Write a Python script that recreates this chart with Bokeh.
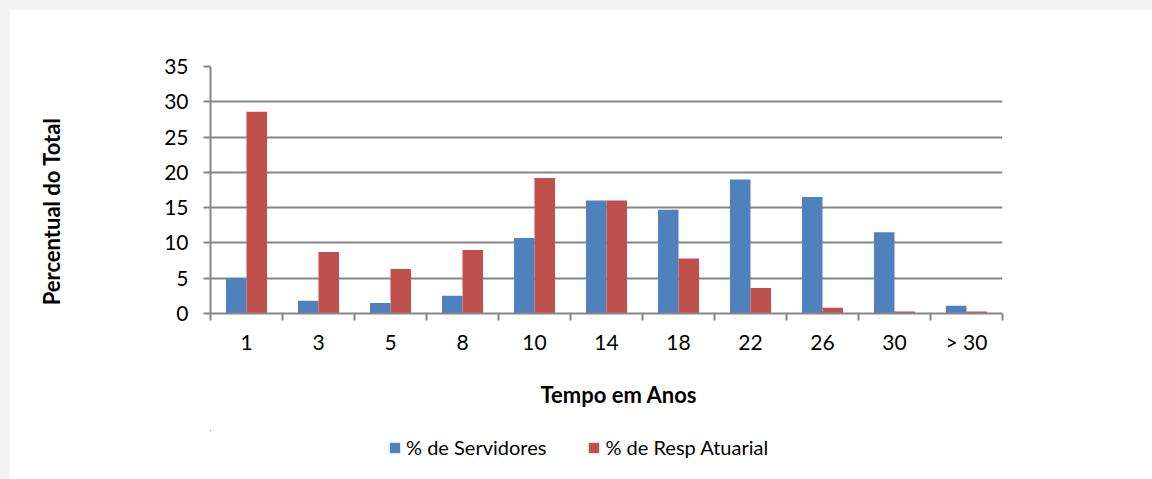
from bokeh.plotting import figure
from bokeh.models import (ColumnDataSource, Range1d, FixedTicker, Legend, LegendItem, Title)
from bokeh.layouts import column
from bokeh.transform import dodge
from bokeh.embed import file_html
from bokeh.resources import INLINE

categories = ["1", "3", "5", "8", "10", "14", "18", "22", "26", "30", "> 30"]
servidores = [5.0, 1.8, 1.5, 2.5, 10.7, 16.0, 14.7, 19.0, 16.5, 11.5, 1.1]
resp_atuarial = [28.6, 8.7, 6.3, 9.0, 19.2, 16.0, 7.8, 3.6, 0.8, 0.3, 0.3]
y_ticks = [0, 5, 10, 15, 20, 25, 30, 35]

series_names = ["% de Servidores", "% de Resp Atuarial"]
x_title = "Tempo em Anos"
y_title = "Percentual do Total"
colors = ["#4f81bd", "#c0504d"]
GRAY = "#868686"
FONT = "Lato"
FS = "21px"
NBSP = "\u00a0"

pos = list(range(1, len(categories) + 1))
src = ColumnDataSource(dict(x=pos, s=servidores, r=resp_atuarial))

p = figure(width=1142, height=420, output_backend="svg", toolbar_location=None,
           x_range=Range1d(0.5, len(categories) + 0.5), y_range=Range1d(0, 35),
           min_border_left=200, min_border_right=150, min_border_top=56,
           min_border_bottom=117)
p.outline_line_color = None
p.background_fill_color = "white"
p.border_fill_color = "white"

bw = 0.285
r1 = p.vbar(x=dodge("x", -bw / 2, range=p.x_range), top="s", width=bw, source=src,
            fill_color=colors[0], line_color=None)
r2 = p.vbar(x=dodge("x", bw / 2, range=p.x_range), top="r", width=bw, source=src,
            fill_color=colors[1], line_color=None)

# x axis
xa = p.xaxis[0]
xa.ticker = FixedTicker(ticks=pos, minor_ticks=[i + 0.5 for i in range(len(categories) + 1)])
xa.major_label_overrides = {i: c for i, c in zip(pos, categories)}
xa.major_tick_out = 0
xa.major_tick_in = 0
xa.minor_tick_out = 7
xa.minor_tick_in = 0
xa.minor_tick_line_color = GRAY
xa.minor_tick_line_width = 2
xa.axis_line_color = GRAY
xa.axis_line_width = 2
xa.major_label_standoff = 8
xa.major_label_text_font = FONT
xa.major_label_text_font_size = FS
xa.major_label_text_color = "black"

# y axis
ya = p.yaxis[0]
ya.ticker = FixedTicker(ticks=y_ticks)
ya.major_tick_out = 7
ya.major_tick_in = 0
ya.minor_tick_out = 0
ya.minor_tick_in = 0
ya.major_tick_line_color = GRAY
ya.major_tick_line_width = 2
ya.axis_line_color = GRAY
ya.axis_line_width = 2
ya.major_label_standoff = 15
ya.major_label_text_font = FONT
ya.major_label_text_font_size = FS
ya.major_label_text_color = "black"
# trailing no-break spaces shift the visible title a little lower along the axis
ya.axis_label = y_title + NBSP * 8
ya.axis_label_text_font = FONT
ya.axis_label_text_font_style = "bold"
ya.axis_label_text_font_size = "22px"
ya.axis_label_text_color = "black"
ya.axis_label_standoff = 96

p.xgrid.grid_line_color = None
p.ygrid.ticker = FixedTicker(ticks=y_ticks)
p.ygrid.grid_line_color = GRAY
p.ygrid.grid_line_width = 2

p.add_layout(Title(text=x_title, align="left", offset=330, standoff=44,
                   text_font=FONT, text_font_size="22px", text_font_style="bold",
                   text_color="black"), "below")

# legend strip (separate figure so the legend is not clipped)
leg = figure(width=1142, height=49, output_backend="svg", toolbar_location=None,
             x_range=Range1d(100, 101), y_range=Range1d(-2, -1),
             x_axis_location=None, y_axis_location=None,
             min_border_left=200, min_border_right=150,
             min_border_top=0, min_border_bottom=0)
leg.outline_line_color = None
leg.grid.visible = False
leg.background_fill_color = None
leg.border_fill_color = None
# same data, lying outside the strip's visible ranges: only the legend swatches show
lr1 = leg.vbar(x="x", top="s", width=bw, source=src, fill_color=colors[0], line_color=None)
lr2 = leg.vbar(x="x", top="r", width=bw, source=src, fill_color=colors[1], line_color=None)

legend = Legend(items=[LegendItem(label=series_names[0], renderers=[lr1]),
                       LegendItem(label=series_names[1], renderers=[lr2])],
                orientation="horizontal", location=(178, 20),
                glyph_width=13, glyph_height=13, label_standoff=5, spacing=41,
                padding=0, margin=0, border_line_color=None,
                background_fill_alpha=0,
                label_text_font=FONT, label_text_font_size="20px",
                label_text_color="black")
leg.add_layout(legend)

layout = column(p, leg, spacing=0)
layout.styles = {"background-color": "white"}

template = """
{% block postamble %}
<style>
html { background: #f3f3f3; }
body { background: #f3f3f3; margin: 10px 0 0 10px !important; padding: 0 !important; height: auto !important; overflow: hidden; }
</style>
{% endblock %}
"""

open("out.html", "w").write(file_html(layout, INLINE, template=template))
